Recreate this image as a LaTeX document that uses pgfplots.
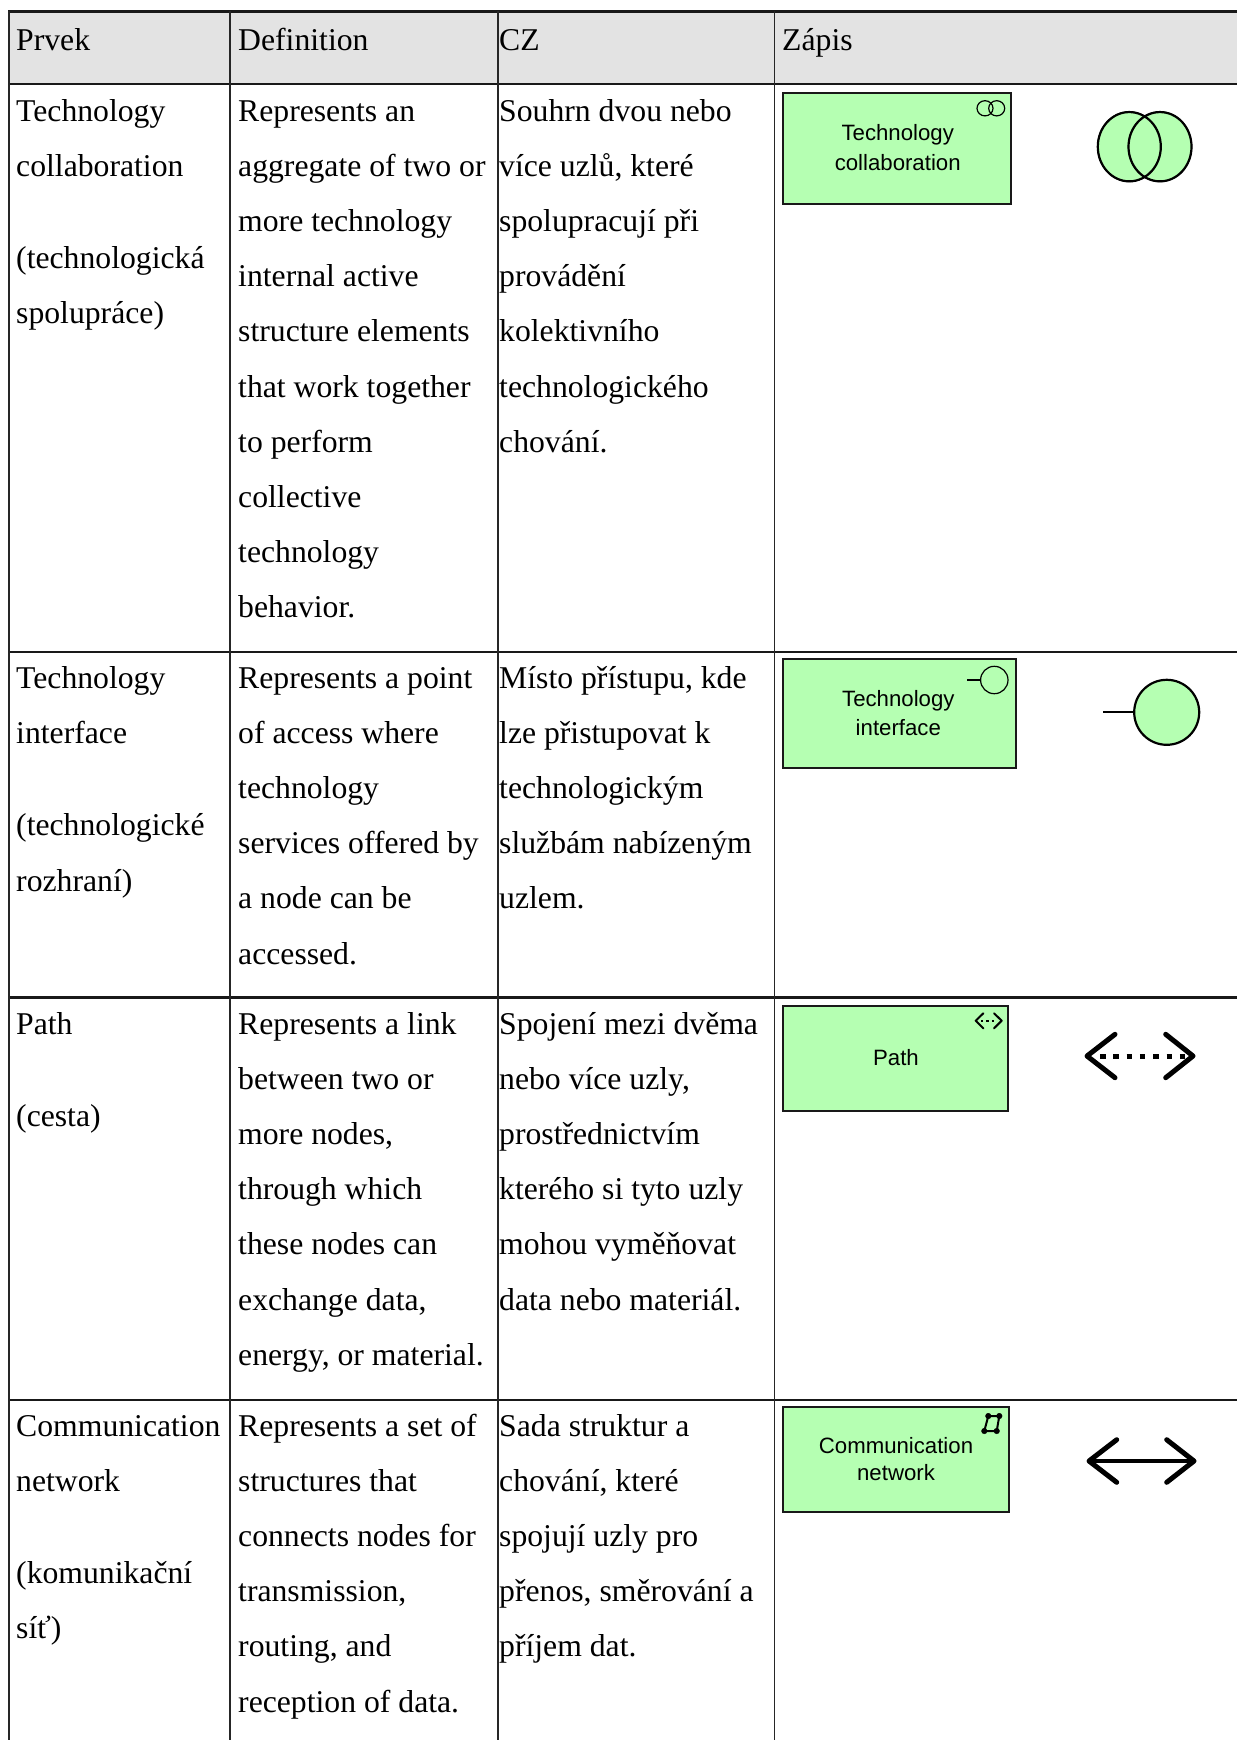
\documentclass[border=0pt]{standalone}
\usepackage{fontspec}
\setmainfont{Liberation Serif}
\newfontfamily\arial{Liberation Sans}
\usepackage{pgfplots}
\pgfplotsset{compat=1.18}
\definecolor{hdr}{HTML}{E3E3E3}
\definecolor{grn}{HTML}{B5FFB2}
\newcommand{\T}[3]{\node[anchor=base west,inner sep=0pt,font=\fontsize{31.7}{36}\selectfont] at (axis cs:#1,#2) {#3};}
\newcommand{\A}[3]{\node[anchor=base,inner sep=0pt,font=\arial\fontsize{22.2}{26}\selectfont] at (axis cs:#1,#2) {#3};}
\newcommand{\HL}[2]{\addplot[color=black!90,line width=#2pt,forget plot] coordinates {(8,#1) (1237,#1)};}
\newcommand{\VL}[2]{\addplot[color=black!85,line width=#2pt,forget plot] coordinates {(#1,11) (#1,1740)};}
\newcommand{\BX}[4]{\addplot[fill=grn,draw=black!90,line width=2pt,forget plot] coordinates {(#1,#3) (#2,#3) (#2,#4) (#1,#4)} --cycle;}
\begin{document}
\begin{tikzpicture}
\path (0,0) rectangle (1237pt,1740pt);
\begin{axis}[
  scale only axis, width=1237pt, height=1740pt,
  xmin=0, xmax=1237, ymin=0, ymax=1740, y dir=reverse,
  hide axis, clip=true]
% header band
\addplot[fill=hdr,draw=none,forget plot] coordinates {(8,11.5) (1237,11.5) (1237,84) (8,84)} --cycle;
% rules
\HL{11.5}{2.6}
\HL{84}{2.4}
\HL{651.7}{2.4}
\HL{997.3}{2.4}
\HL{1399.7}{2.4}
\VL{8.5}{2}
\VL{230}{2.6}
\VL{498}{1.2}
\VL{774.5}{1.2}
% header
\T{16}{50.7}{Prvek}
\T{238}{50.7}{Definition}
\T{499}{50.7}{CZ}
\T{782}{50.7}{Zápis}
% row 1
\T{16}{121}{Technology}
\T{16}{176}{collaboration}
\T{16}{268}{(technologická}
\T{16}{323}{spolupráce)}
\T{238}{121}{Represents an}
\T{238}{176}{aggregate of two or}
\T{238}{231.4}{more technology}
\T{238}{286.6}{internal active}
\T{238}{341.8}{structure elements}
\T{238}{397}{that work together}
\T{238}{452.2}{to perform}
\T{238}{507.4}{collective}
\T{238}{562.6}{technology}
\T{238}{617.8}{behavior.}
\T{499}{121}{Souhrn dvou nebo}
\T{499}{176}{více uzlů, které}
\T{499}{231.4}{spolupracují při}
\T{499}{286.6}{provádění}
\T{499}{341.8}{kolektivního}
\T{499}{397}{technologického}
\T{499}{452.2}{chování.}
% row 2
\T{16}{688}{Technology}
\T{16}{743}{interface}
\T{16}{835.5}{(technologické}
\T{16}{891}{rozhraní)}
\T{238}{688}{Represents a point}
\T{238}{743.2}{of access where}
\T{238}{798.4}{technology}
\T{238}{853.6}{services offered by}
\T{238}{908.8}{a node can be}
\T{238}{964}{accessed.}
\T{499}{688}{Místo přístupu, kde}
\T{499}{743.2}{lze přistupovat k}
\T{499}{798.4}{technologickým}
\T{499}{853.6}{službám nabízeným}
\T{499}{908.8}{uzlem.}
% row 3
\T{16}{1034}{Path}
\T{16}{1126}{(cesta)}
\T{238}{1034}{Represents a link}
\T{238}{1089.2}{between two or}
\T{238}{1144.4}{more nodes,}
\T{238}{1199.6}{through which}
\T{238}{1254.8}{these nodes can}
\T{238}{1310}{exchange data,}
\T{238}{1365.2}{energy, or material.}
\T{499}{1034}{Spojení mezi dvěma}
\T{499}{1089.2}{nebo více uzly,}
\T{499}{1144.4}{prostřednictvím}
\T{499}{1199.6}{kterého si tyto uzly}
\T{499}{1254.8}{mohou vyměňovat}
\T{499}{1310}{data nebo materiál.}
% row 4
\T{16}{1436}{Communication}
\T{16}{1491}{network}
\T{16}{1583}{(komunikační}
\T{16}{1638}{síť)}
\T{238}{1436}{Represents a set of}
\T{238}{1491.2}{structures that}
\T{238}{1546.4}{connects nodes for}
\T{238}{1601.6}{transmission,}
\T{238}{1656.8}{routing, and}
\T{238}{1712}{reception of data.}
\T{499}{1436}{Sada struktur a}
\T{499}{1491.2}{chování, které}
\T{499}{1546.4}{spojují uzly pro}
\T{499}{1601.6}{přenos, směrování a}
\T{499}{1656.8}{příjem dat.}
% boxes
\BX{783.3}{1010.7}{92.7}{204}
\BX{783.3}{1015.7}{659.3}{767.7}
\BX{783.3}{1008}{1005.7}{1110.7}
\BX{783.3}{1009}{1407.3}{1512.3}
\A{897.7}{140.5}{Technology}
\A{897.7}{170.5}{collaboration}
\A{898.3}{706.5}{Technology}
\A{898.3}{735}{interface}
\A{896}{1065.3}{Path}
\A{896}{1453.3}{Communication}
\A{896}{1480.5}{network}
% collaboration icon, small
\addplot[only marks,mark=o,mark size=8pt,mark options={line width=1.2pt,black,yscale=0.95},forget plot] coordinates {(985,108.3) (996.7,108.3)};
% collaboration, large
\addplot[only marks,mark=*,mark size=32pt,mark options={fill=grn,draw=none,yscale=1.1},forget plot] coordinates {(1129.3,146.7) (1160,146.7)};
\addplot[only marks,mark=o,mark size=31.5pt,mark options={line width=2.2pt,black,yscale=1.1},forget plot] coordinates {(1129.3,146.7) (1160,146.7)};
% interface icon, small
\addplot[black,line width=1.2pt,forget plot] coordinates {(967.3,680) (980.5,680)};
\addplot[only marks,mark=o,mark size=13.7pt,mark options={line width=1.2pt,black},forget plot] coordinates {(994.3,680)};
% interface, large
\addplot[black,line width=2pt,forget plot] coordinates {(1103.3,712.3) (1134.7,712.3)};
\addplot[only marks,mark=*,mark size=32.5pt,mark options={fill=grn,draw=black,line width=2.2pt},forget plot] coordinates {(1166.7,712.3)};
% path icon, small
\addplot[black,line width=2pt,line cap=round,line join=round,forget plot] coordinates {(983.3,1013.3) (975.7,1020.7) (983.3,1028.3)};
\addplot[black,line width=2pt,line cap=round,line join=round,forget plot] coordinates {(994,1013.3) (1001.7,1020.7) (994,1028.3)};
\addplot[black,line width=2pt,dash pattern=on 2.4pt off 3pt,forget plot] coordinates {(981,1020.7) (997,1020.7)};
% path, large
\addplot[black,line width=5pt,line cap=round,line join=round,forget plot] coordinates {(1115,1034.3) (1087,1056) (1115,1077.7)};
\addplot[black,line width=5pt,line cap=round,line join=round,forget plot] coordinates {(1165.7,1034.3) (1193,1056) (1165.7,1077.7)};
\addplot[black,line width=5pt,dash pattern=on 5.5pt off 7.8pt,forget plot] coordinates {(1100,1056) (1190,1056)};
% network icon, small
\addplot[black,line width=2pt,forget plot] coordinates {(988.3,1416) (999.3,1416) (996.7,1431) (984.3,1431)} --cycle;
\addplot[only marks,mark=*,mark size=2.8pt,mark options={black},forget plot] coordinates {(988.3,1416) (999.3,1416) (996.7,1431) (984.3,1431)};
% network, large
\addplot[black,line width=5pt,line cap=round,line join=round,forget plot] coordinates {(1116.7,1439.7) (1089,1461) (1116.7,1482.3)};
\addplot[black,line width=5pt,line cap=round,line join=round,forget plot] coordinates {(1166.7,1439.7) (1194,1461) (1166.7,1482.3)};
\addplot[black,line width=4.5pt,forget plot] coordinates {(1089,1461) (1194,1461)};
\end{axis}
\end{tikzpicture}
\end{document}
